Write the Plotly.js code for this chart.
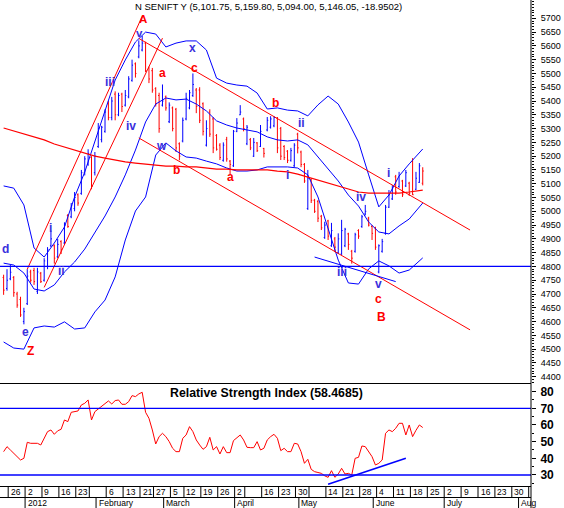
<!DOCTYPE html>
<html><head><meta charset="utf-8">
<script src="https://cdn.plot.ly/plotly-3.0.1.min.js"></script>
<style>html,body{margin:0;padding:0;background:#fff;}#chart{width:564px;height:508px;}</style>
</head><body><div id="chart"></div>
<script>
// ---------------- DATA ----------------
const holidays = ['2012-01-26','2012-02-20','2012-03-08','2012-04-05','2012-04-06','2012-05-01'];
const firstBarDate = '2011-12-23';
const lastCalendarDate = '2012-08-10';

const open = [
4760,4720,4755,4760,4700,4680,4600,4665,4780,4785,
4710,4775,4750,4800,4875,4875,4835,4890,4885,4985,
4980,5010,5060,5065,5140,5170,5195,5140,5235,5260,
5290,5390,5340,5425,5350,5425,5385,5415,5475,5535,
5560,5585,5610,5520,5510,5445,5420,5385,5415,5325,
5375,5370,5245,5255,5335,5375,5420,5440,5440,5390,
5240,5360,5335,5275,5240,5185,5260,5182,5165,5290,
5350,5335,5245,5260,5200,5248,5235,5228,5295,5305,
5310,5338,5300,5235,5218,5185,5165,5280,5215,5170,
5010,5115,5040,5035,4982,4905,4965,4875,4900,4850,
4845,4875,4918,4855,4855,4930,4945,4990,4975,4945,
4940,4780,4855,4920,5015,5045,5125,5090,5110,5092,
5102,5180,5080,5105,5101.75];
const high = [
4770,4790,4805,4765,4708,4690,4650,4790,4788,4795,
4795,4780,4830,4870,4930,4880,4900,4895,4960,4990,
5030,5070,5065,5150,5200,5225,5200,5215,5320,5310,
5370,5400,5415,5435,5430,5430,5440,5490,5550,5540,
5620,5636,5615,5525,5520,5450,5430,5460,5420,5395,
5380,5375,5250,5340,5430,5440,5500,5447,5450,5395,
5330,5370,5342,5280,5247,5250,5270,5186,5295,5338,
5385,5340,5313,5266,5266,5251,5313,5230,5342,5345,
5345,5342,5306,5240,5222,5230,5247,5285,5220,5175,
5150,5120,5045,5041,4987,4962,4969,4958,4907,4920,
4969,4940,4922,4860,4922,4935,4987,5023,4980,4950,
4944,4880,4900,5023,5077,5095,5132,5143,5114,5150,
5107,5193,5143,5175,5159.80];
const low = [
4697,4712,4750,4690,4650,4617,4590,4660,4741,4733,
4700,4740,4745,4790,4870,4810,4830,4845,4880,4940,
4975,5000,5020,5060,5130,5165,5080,5130,5230,5250,
5285,5330,5330,5330,5345,5360,5380,5410,5470,5485,
5555,5580,5505,5465,5430,5380,5285,5380,5365,5320,
5290,5215,5185,5250,5330,5370,5415,5356,5320,5275,
5235,5270,5211,5220,5186,5180,5180,5135,5161,5287,
5349,5290,5240,5222,5197,5215,5233,5195,5290,5300,
5305,5211,5186,5186,5175,5180,5161,5210,5160,5103,
5005,5030,4994,4961,4932,4900,4896,4871,4852,4845,
4842,4870,4860,4810,4850,4900,4940,4985,4945,4896,
4860,4775,4850,4915,5012,5041,5060,5085,5052,5088,
5056,5059,5077,5103,5094.00];
const close = [
4714,4750,4779,4705,4660,4624,4636,4765,4750,4745,
4780,4745,4820,4860,4900,4830,4880,4860,4950,4945,
5020,5050,5030,5140,5190,5210,5090,5200,5300,5305,
5360,5340,5400,5350,5420,5380,5420,5480,5530,5500,
5600,5610,5510,5480,5440,5390,5300,5400,5375,5385,
5300,5230,5200,5330,5410,5430,5460,5380,5330,5290,
5300,5280,5230,5225,5195,5240,5190,5170,5290,5320,
5360,5300,5305,5230,5250,5220,5290,5210,5330,5335,
5340,5230,5200,5195,5185,5220,5240,5230,5170,5110,
5120,5040,5000,4975,4940,4950,4910,4930,4870,4900,
4930,4935,4880,4830,4915,4910,4980,5000,4950,4920,
4870,4875,4890,5015,5060,5085,5070,5130,5060,5140,
5065,5060,5120,5165,5146.05];

const rsiValues = [
44,47,45,43,41,39,40,49.6,49,49,
49,48,52,56,57,54.4,56.5,57.4,63,62,
67.6,67.8,68.4,72,73,75,63,68,69.6,71,
73,74.4,72.6,74.6,75,72.4,72.4,74,77.6,77,
78.6,79.6,67.6,64,57,48.6,53,55,53,50,
46,44,44,52,54,59,56,51,48,45.4,
47,52.6,45,47,42.6,47,43.4,43.4,50.6,52.6,
54,51,46.6,46.4,46.4,50,45,46,51,53,
54.4,52,44.6,46,44,44,49,48.6,44,37,
39.4,33.4,32,31.5,31,29.5,28.6,32.6,28.6,30.6,
34,30.6,31,30,40,40.6,47.4,47,44,41,
36,37,39,55,57,56,58,61,61,54,
60,53,56.8,60,58.4685];

// band samples: bar numbers (0 = first bar)
const bandSampleBars = [0,3,6,9,12,15,18,21,24,27,30,33,36,39,42,45,48,51,54,57,60,63,66,69,72,75,78,81,84,87,90,93,96,99,102,105,108,111,114,117,120,123,124];
const bbUpper = [5092,5084,5023,4867,4834,4885,4943,5052,5142,5251,5367,5476,5549,5614,5650,5643,5596,5610,5618,5618,5585,5483,5465,5458,5454,5429,5371,5375,5367,5364,5346,5386,5418,5389,5324,5251,5132,5016,5059,5128,5172,5211,5226];
const bbMiddle = [4812,4805,4776,4718,4711,4733,4780,4816,4863,4925,4983,5052,5132,5222,5324,5389,5411,5404,5407,5389,5364,5328,5313,5302,5295,5288,5270,5259,5255,5259,5241,5197,5150,5110,5059,5019,4961,4925,4918,4947,4972,5016,5030];
const bbLower = [4526,4504,4500,4577,4584,4580,4599,4573,4577,4635,4678,4762,4896,5001,5052,5204,5248,5219,5197,5193,5182,5172,5157,5146,5146,5150,5161,5161,5161,5157,5132,5052,4939,4823,4740,4736,4791,4820,4802,4776,4787,4820,4831];
const longMA = [5302,5291,5280,5269,5259,5244,5233,5222,5211,5200,5193,5186,5179,5175,5172,5168,5164,5164,5161,5161,5157,5153,5153,5150,5150,5150,5150,5146,5143,5135,5124,5114,5103,5092,5081,5070,5066,5066,5066,5066,5070,5077,5077];

// trend lines (date, price)
const redTrendStartDates = ['2012-01-03','2012-01-10','2012-02-21','2012-02-21'];
const redTrendStartPrices = [4790,4724,5627,5266];
const redTrendEndDates = ['2012-02-22','2012-03-01','2012-07-12','2012-07-12'];
const redTrendEndPrices = [5707,5628,4932,4570];
const blueTrendDates = ['2012-05-09','2012-06-12'];
const blueTrendPrices = [4834,4745];
const supportLevel = 4800;
const rsiTrendDates = ['2012-05-15','2012-06-15'];
const rsiTrendValues = [24.4,40.0];
const rsiLevels = [70,30];

const weekTickDates = ['2011-12-26','2012-01-02','2012-01-09','2012-01-16','2012-01-23','2012-01-30','2012-02-06','2012-02-13','2012-02-21','2012-02-27','2012-03-05','2012-03-12','2012-03-19','2012-03-26','2012-04-02','2012-04-09','2012-04-16','2012-04-23','2012-04-30','2012-05-07','2012-05-14','2012-05-21','2012-05-28','2012-06-04','2012-06-11','2012-06-18','2012-06-25','2012-07-02','2012-07-09','2012-07-16','2012-07-23','2012-07-30','2012-08-06'];
const weekTickLabels = ['26','2','9','16','23','','6','13','21','27','5','12','19','26','2','','16','23','30','','14','21','28','4','11','18','25','2','9','16','23','30',''];
const monthDates = ['2012-01-02','2012-02-01','2012-03-01','2012-04-02','2012-05-02','2012-06-01','2012-07-02','2012-08-01'];
const monthLabels = ['2012','February','March','April','May','June','July','Aug'];
const priceTicks = [4400,4450,4500,4550,4600,4650,4700,4750,4800,4850,4900,4950,5000,5050,5100,5150,5200,5250,5300,5350,5400,5450,5500,5550,5600,5650,5700];
const rsiTicks = [30,40,50,60,70,80];

const chartTitle = 'N SENIFT Y (5,101.75, 5,159.80, 5,094.00, 5,146.05, -18.9502)';
const rsiTitle = 'Relative Strength Index (58.4685)';

// ---------------- CALENDAR ----------------
const tradingDays = [];
(function(){
  const d = new Date(firstBarDate + 'T00:00:00Z');
  const end = new Date(lastCalendarDate + 'T00:00:00Z');
  while (d <= end) {
    const w = d.getUTCDay();
    const s = d.toISOString().slice(0,10);
    if (w !== 0 && w !== 6 && holidays.indexOf(s) < 0) tradingDays.push(s);
    d.setUTCDate(d.getUTCDate() + 1);
  }
})();
const pos = s => tradingDays.indexOf(s);

// ---------------- TRACES ----------------
const FONT = 'Liberation Sans, Arial, Helvetica, sans-serif';
const BLUE = '#0000ff', RED = '#ff0000';
const traces = [];
const bandX = bandSampleBars;
[bbUpper, bbMiddle, bbLower].forEach(b => traces.push({type:'scatter', mode:'lines', x:bandX, y:b, xaxis:'x', yaxis:'y', line:{color:BLUE, width:1}, hoverinfo:'skip'}));

const up = {x:[],open:[],high:[],low:[],close:[]}, dn = {x:[],open:[],high:[],low:[],close:[]};
for (let i = 0; i < close.length; i++) {
  const prev = i ? close[i-1] : open[i];
  const t = close[i] >= prev ? up : dn;
  t.x.push(pos(tradingDays[i])); t.open.push(open[i]); t.high.push(high[i]); t.low.push(low[i]); t.close.push(close[i]);
}
[[up, BLUE],[dn, RED]].forEach(([d, c]) => traces.push(Object.assign({type:'ohlc', xaxis:'x', yaxis:'y', tickwidth:0.3,
  increasing:{line:{color:c, width:1}}, decreasing:{line:{color:c, width:1}}, hoverinfo:'skip'}, d)));

traces.push({type:'scatter', mode:'lines', x:bandX, y:longMA, xaxis:'x', yaxis:'y', line:{color:RED, width:1.2}, hoverinfo:'skip'});
for (let k = 0; k < redTrendStartDates.length; k++) {
  traces.push({type:'scatter', mode:'lines', x:[pos(redTrendStartDates[k]), pos(redTrendEndDates[k])], y:[redTrendStartPrices[k], redTrendEndPrices[k]], xaxis:'x', yaxis:'y', line:{color:RED, width:1}, hoverinfo:'skip'});
}
traces.push({type:'scatter', mode:'lines', x:blueTrendDates.map(pos), y:blueTrendPrices, xaxis:'x', yaxis:'y', line:{color:BLUE, width:1}, hoverinfo:'skip'});

traces.push({type:'scatter', mode:'lines', x:rsiValues.map((_, i) => pos(tradingDays[i])), y:rsiValues, xaxis:'x', yaxis:'y2', line:{color:RED, width:1}, hoverinfo:'skip'});
traces.push({type:'scatter', mode:'lines', x:rsiTrendDates.map(pos), y:rsiTrendValues, xaxis:'x', yaxis:'y2', line:{color:BLUE, width:1.6}, hoverinfo:'skip'});

// ---------------- LAYOUT ----------------
const H = 486; // plot height in px
const py = p => (H - p) / H; // pixel row -> paper y
const shapes = [];
const annotations = [];

shapes.push({type:'line', xref:'paper', x0:0, x1:1, yref:'y', y0:supportLevel, y1:supportLevel, line:{color:BLUE, width:1.3}});
rsiLevels.forEach(v => shapes.push({type:'line', xref:'paper', x0:0, x1:1, yref:'y2', y0:v, y1:v, line:{color:BLUE, width:1.3}}));
// frame lines
shapes.push({type:'line', xref:'paper', x0:0, x1:1, yref:'paper', y0:py(383.5), y1:py(383.5), line:{color:'#000', width:1.2}});
shapes.push({type:'line', xref:'paper', x0:0, x1:1, yref:'paper', y0:py(486.5), y1:py(486.5), line:{color:'#000', width:1}});
shapes.push({type:'line', xref:'paper', x0:0, x1:1, yref:'paper', y0:py(497.5), y1:py(497.5), line:{color:'#000', width:1}});
shapes.push({type:'line', xref:'paper', x0:1, x1:1, yref:'paper', y0:py(508), y1:1, line:{color:'#000', width:1}});

weekTickDates.forEach((d, i) => {
  const x = pos(d) + 0.35;
  shapes.push({type:'line', xref:'x', x0:x, x1:x, yref:'paper', y0:py(486.5), y1:py(497.5), line:{color:'#000', width:1}});
  if (weekTickLabels[i]) annotations.push({xref:'x', x:x, xanchor:'left', xshift:0.5, yref:'paper', y:py(492.3), yanchor:'middle', text:weekTickLabels[i], showarrow:false, font:{family:FONT, size:8.5, color:'#000'}});
});
monthDates.forEach((d, i) => {
  const x = pos(d) + 0.35;
  shapes.push({type:'line', xref:'x', x0:x, x1:x, yref:'paper', y0:py(497.5), y1:py(508), line:{color:'#000', width:1}});
  annotations.push({xref:'x', x:x, xanchor:'left', xshift:0.5, yref:'paper', y:py(503), yanchor:'middle', text:monthLabels[i], showarrow:false, font:{family:FONT, size:8.5, color:'#000'}});
});

annotations.push({xref:'paper', x:133/531, xanchor:'left', yref:'paper', y:py(6.5), yanchor:'middle', text:chartTitle, showarrow:false, font:{family:FONT, size:9.5, color:'#000'}});
annotations.push({xref:'paper', x:168/531, xanchor:'left', yref:'paper', y:py(392.7), yanchor:'middle', text:rsiTitle, showarrow:false, font:{family:FONT, size:12.3, color:'#000', weight:'bold'}});

const LBL_RED = '#ff0000', LBL_BLUE = '#3a30dd';
const waveLabels = [
  ['A',41.2,5697,LBL_RED,11.5],['a',47.0,5503,LBL_RED,12],['c',56.5,5519,LBL_RED,12],['b',51.2,5150,LBL_RED,12],
  ['a',67.0,5123,LBL_RED,12],['b',80.3,5393,LBL_RED,12],['Z',8.0,4492,LBL_RED,12],['c',111.0,4682,LBL_RED,12],['B',111.8,4616,LBL_RED,12],
  ['v',40.3,5645,LBL_BLUE,11.5],['x',55.9,5591,LBL_BLUE,12],['iii',31.5,5469,LBL_BLUE,12],['iv',37.8,5309,LBL_BLUE,12],
  ['w',46.6,5237,LBL_BLUE,12],['ii',88.0,5319,LBL_BLUE,12],['i',84.1,5132,LBL_BLUE,12],['i',13.9,4940,LBL_BLUE,12],
  ['d',0.7,4862,LBL_BLUE,12],['ii',17.0,4783,LBL_BLUE,12],['e',6.6,4563,LBL_BLUE,12],['iv',105.7,5051,LBL_BLUE,12],
  ['i',114.0,5138,LBL_BLUE,12],['iii',100.1,4781,LBL_BLUE,12],['v',111.0,4737,LBL_BLUE,12]
];
waveLabels.forEach(([t, x, y, c, s]) => annotations.push({xref:'x', yref:'y', x:x, y:y, text:t, showarrow:false, xanchor:'center', yanchor:'middle', borderpad:0, font:{family:FONT, size:s, color:c, weight:'bold'}}));

const layout = {
  width:564, height:508,
  margin:{l:0, r:33, t:0, b:22, pad:0},
  paper_bgcolor:'#fff', plot_bgcolor:'rgba(0,0,0,0)',
  showlegend:false,
  xaxis:{range:[-1.071, 156.03], anchor:'y2', showticklabels:false, ticks:'', showgrid:false, zeroline:false, showline:false, fixedrange:true, rangeslider:{visible:false}},
  yaxis:{domain:[py(383), 1], range:[4377.2, 5766.4], side:'right', anchor:'x', showline:false, showgrid:false, zeroline:false,
    ticks:'outside', ticklen:4, tickwidth:1, tickcolor:'#000', tickmode:'array', tickvals:priceTicks, ticktext:priceTicks.map(String),
    tickfont:{family:FONT, size:9, color:'#000'}, ticklabelstandoff:3,
    minor:{ticks:'outside', ticklen:2, tickcolor:'#000', tickmode:'linear', tick0:4400, dtick:10, showgrid:false}, fixedrange:true},
  yaxis2:{domain:[0, py(384)], range:[23.40, 84.57], side:'right', anchor:'x', showline:false, showgrid:false, zeroline:false,
    ticks:'outside', ticklen:4, tickwidth:1, tickcolor:'#000', tickmode:'array', tickvals:rsiTicks, ticktext:rsiTicks.map(String),
    tickfont:{family:FONT, size:12, color:'#000', weight:'bold'}, ticklabelstandoff:2,
    minor:{ticks:'outside', ticklen:2, tickcolor:'#000', tickmode:'linear', tick0:30, dtick:5, showgrid:false}, fixedrange:true},
  shapes:shapes, annotations:annotations
};

Plotly.newPlot('chart', traces, layout, {staticPlot:true, displayModeBar:false});
</script>
</body></html>
